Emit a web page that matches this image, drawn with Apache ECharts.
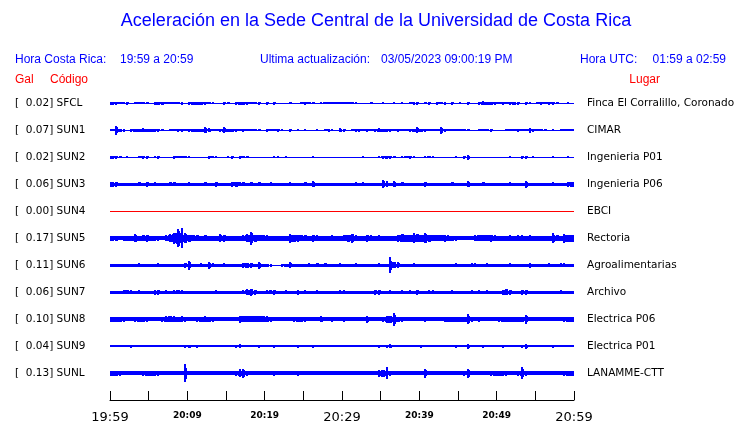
<!DOCTYPE html>
<html>
<head>
<meta charset="utf-8">
<script src="https://cdn.jsdelivr.net/npm/echarts@6/dist/echarts.min.js"></script>
<style>html,body{margin:0;padding:0;background:#fff;overflow:hidden}#c{width:740px;height:423px}</style>
</head>
<body>
<div id="c"></div>
<script>
// ---- data ----
const codes = ['SFCL','SUN1','SUN2','SUN3','SUN4','SUN5','SUN6','SUN7','SUN8','SUN9','SUNL'];
const galValues = ['0.02','0.07','0.02','0.06','0.00','0.17','0.11','0.06','0.10','0.04','0.13'];
const places = ['Finca El Corralillo, Coronado','CIMAR','Ingenieria P01','Ingenieria P06','EBCI','Rectoria','Agroalimentarias','Archivo','Electrica P06','Electrica P01','LANAMME-CTT'];
const timeTicks = [0,5,10,15,20,25,30,35,40,45,50,55,60];           // minutes after 19:59
const timeLabels = {0:'19:59',10:'20:09',20:'20:19',30:'20:29',40:'20:39',50:'20:49',60:'20:59'};
const bigLabels = ['19:59','20:29','20:59'];

// half-amplitude envelopes (one value per 30 s)
const SFCL = [1.3,1.3,1.0,0.8,1.3,0.5,1.0,1.0,1.0,1.0, 0.5,1.3,1.3,1.3,1.2,0.8,0.8,1.0,1.3,0.7,
 1.3,1.3,1.3,1.3,1.3,1.0,1.0,0.5,0.5,1.3, 1.0,0.5,1.3,1.3,1.3,1.3,1.0,0.8,1.3,0.6,
 1.3,0.6,1.3,0.5,0.5,0.5,1.0,0.5,0.5,1.0, 1.3,0.8,1.0,0.5,0.8,0.8,0.8,0.8,1.0,1.0,
 1.0,1.0,0.8,0.8,0.5,0.5,0.5,1.0,0.5,0.5, 0.8,0.5,0.5,0.8,0.5,0.8,0.5,1.0,1.3,1.3,
 0.5,1.0,1.3,0.7,1.3,0.8,1.3,0.5,1.3,0.5, 0.8,0.5,1.3,0.5,0.5,1.5,2.0,1.3,1.3,1.3,
 1.0,1.3,0.8,1.3,1.3,1.3,0.5,1.3,0.8,0.5, 1.0,1.3,0.8,1.3,1.3,1.0,0.5,0.5,0.8,0.5];
const SUN1 = [1.2,4.5,1.5,1.3,0.6,1.3,1.3,1.5,1.8,1.3, 1.3,1.3,1.3,1.0,0.6,1.0,1.0,1.3,1.3,1.0,
 1.3,1.3,1.3,1.5,3.0,2.0,1.0,1.0,1.3,3.0, 1.3,1.3,1.3,0.8,1.5,0.8,1.0,0.8,1.0,0.6,
 1.3,0.8,1.0,1.3,0.8,0.6,1.3,0.6,0.8,0.6, 0.8,0.6,0.6,0.8,0.6,1.0,1.3,0.8,0.6,2.0,
 1.3,0.6,1.0,1.3,1.3,1.0,1.3,1.0,1.3,2.0, 1.5,1.3,1.3,0.8,1.3,1.0,1.0,1.3,1.3,3.0,
 1.5,1.3,0.8,0.8,1.0,3.5,1.3,0.8,1.0,1.0, 1.0,1.0,1.0,0.6,0.6,1.0,1.0,1.0,1.3,0.6,
 0.6,0.6,1.0,1.0,1.0,1.3,1.0,1.0,2.5,1.3, 1.0,1.0,1.0,0.6,0.8,0.6,1.0,0.8,1.0,1.0];
const SUN2 = [1.3,1.3,1.0,0.5,0.8,0.5,0.5,1.0,1.3,1.3, 0.5,1.0,1.3,0.5,0.5,0.5,1.3,0.8,0.8,0.8,
 0.8,0.5,0.5,0.5,0.5,1.3,1.0,0.8,0.5,0.5, 0.8,1.3,0.5,1.3,0.8,1.0,0.5,0.5,0.5,0.5,
 0.5,0.5,0.8,0.8,0.5,0.8,0.5,0.5,0.5,0.5, 0.5,0.5,0.8,0.5,0.5,0.5,0.5,0.5,0.5,0.5,
 0.5,0.5,0.5,0.5,0.5,0.8,0.5,0.5,0.5,0.8, 1.3,1.3,1.3,1.0,0.5,0.8,0.8,1.3,0.8,0.5,
 0.5,0.8,0.8,0.8,0.5,0.5,0.5,0.5,0.5,0.8, 0.5,1.3,2.5,0.5,0.5,0.5,0.5,0.5,0.5,0.5,
 0.5,0.5,0.5,0.8,0.5,0.5,1.3,1.3,0.5,0.8, 0.5,0.5,0.5,0.5,0.8,0.5,0.5,0.5,0.8,0.5];
const SUN3 = [2.3,2.3,1.6,1.6,1.6,1.6,1.6,2.0,1.6,2.5, 1.6,2.0,1.6,1.6,1.6,2.0,2.0,1.6,1.6,1.6,
 1.8,1.6,1.6,1.6,2.0,1.6,1.6,2.3,1.6,1.6, 1.6,2.5,2.5,2.0,2.0,1.6,2.0,1.6,2.0,1.6,
 1.6,1.8,1.6,1.6,1.6,1.6,1.8,1.6,1.6,1.6, 2.0,1.6,3.0,1.6,1.6,1.6,1.6,1.6,1.6,1.6,
 1.6,1.6,1.6,2.0,1.6,1.8,1.6,1.6,1.6,1.6, 4.0,3.0,1.6,3.0,1.6,2.0,1.6,1.6,1.6,1.6,
 1.6,2.5,1.6,1.6,1.6,1.6,1.6,1.6,2.0,1.6, 1.6,1.6,3.0,1.6,1.6,1.6,2.0,1.6,1.6,1.6,
 1.6,1.6,1.6,1.8,1.6,1.6,1.6,3.5,1.6,1.6, 1.6,1.6,1.6,1.6,1.8,1.6,1.6,1.6,2.3,2.3];
const SUN4 = [0,0,0,0,0,0,0,0,0,0,0,0];
const SUN5 = [2.3,2.5,2.0,2.3,2.5,2.5,4.0,2.5,3.0,3.3, 2.5,2.5,2.3,2.0,3.0,4.0,5.5,9.0,10.0,5.0,
 3.5,3.0,3.0,2.5,3.0,2.5,2.3,2.3,4.0,3.5, 2.5,2.5,2.5,2.3,2.8,4.0,6.5,3.5,3.0,3.0,
 2.8,2.5,2.5,2.3,2.3,2.5,4.5,3.5,3.3,3.0, 3.0,2.5,3.5,2.8,2.5,2.5,2.5,2.8,2.5,2.5,
 3.0,3.5,4.5,3.0,2.5,2.5,3.5,3.0,2.3,3.0, 2.5,2.3,2.3,2.5,3.5,4.0,3.5,3.5,5.0,4.0,
 3.5,5.0,3.5,3.0,2.8,3.0,3.5,2.8,2.5,2.3, 2.0,2.0,2.0,2.0,3.0,2.8,2.8,3.0,3.5,2.8,
 2.5,2.5,2.5,2.8,2.5,2.8,2.8,2.5,3.0,2.5, 2.5,2.5,2.3,2.3,5.0,3.0,2.5,4.5,3.5,3.5];
const SUN6 = [1.3,1.3,1.3,1.3,1.3,1.3,1.3,1.8,1.3,1.3, 1.3,1.3,1.8,1.5,1.3,1.3,1.3,1.3,1.3,2.5,
 4.5,1.3,1.3,2.0,1.3,3.5,2.0,1.3,1.3,2.0, 1.3,1.3,1.3,1.3,2.3,2.3,2.3,1.3,3.5,1.3,
 1.3,1.3,0.5,0.5,1.3,1.3,3.0,1.3,1.3,1.3, 1.3,1.8,1.3,2.2,1.3,2.2,1.3,1.3,1.3,2.0,
 1.3,1.3,1.3,2.0,1.3,1.3,1.3,1.3,1.3,1.8, 1.3,1.3,8.0,3.0,3.0,1.3,1.3,1.3,2.0,1.3,
 1.3,1.3,1.3,1.3,1.3,1.3,1.3,1.3,1.3,1.8, 1.3,1.3,1.3,1.8,1.8,1.3,1.3,2.0,1.3,1.3,
 1.3,1.3,1.3,2.0,1.3,1.3,1.3,1.3,2.3,1.3, 1.3,1.3,1.3,2.0,1.3,1.3,2.0,2.0,1.3,1.3];
const SUN7 = [1.3,1.3,1.3,2.0,2.0,2.0,1.3,2.0,1.3,1.3, 1.3,2.3,2.3,1.3,1.8,1.3,2.0,2.0,2.0,1.3,
 1.3,1.3,1.3,1.3,1.3,1.3,1.3,2.0,1.3,1.3, 1.3,1.3,1.3,1.3,2.0,3.0,3.5,2.5,1.3,1.3,
 2.0,2.0,2.5,1.3,1.3,2.0,1.3,1.3,2.3,1.3, 2.0,1.3,1.3,1.8,1.3,1.3,1.3,1.3,1.3,2.0,
 2.0,1.3,1.3,1.3,1.3,1.3,1.3,1.3,2.3,2.3, 1.3,1.3,2.0,1.3,1.3,1.8,1.3,2.0,1.3,2.3,
 1.3,1.3,2.0,2.0,1.3,1.3,1.3,1.3,1.8,1.3, 1.3,1.3,1.3,2.0,1.3,2.0,1.3,2.0,1.3,1.3,
 1.3,2.5,3.0,2.5,1.3,1.3,2.3,2.3,1.3,1.3, 1.3,1.3,1.3,1.3,1.3,1.3,1.8,1.3,1.3,1.3];
const SUN8 = [2.5,2.5,2.5,2.3,1.8,1.8,2.3,2.3,2.5,2.3, 1.8,1.8,1.8,2.5,2.8,3.0,2.8,2.5,2.8,2.5,
 1.8,1.8,2.5,2.5,2.8,2.5,2.5,1.8,1.8,1.8, 1.8,1.8,1.8,3.5,2.8,2.8,3.0,2.8,2.8,2.8,
 2.8,2.5,1.8,1.8,1.8,1.8,1.8,2.3,2.3,2.3, 2.3,1.8,1.8,1.8,3.0,1.8,1.8,2.3,1.8,1.8,
 2.3,1.8,1.8,1.8,1.8,1.8,3.5,1.8,1.8,1.8, 2.3,3.5,3.5,6.5,2.5,2.3,1.8,1.8,1.8,1.8,
 1.8,2.3,1.8,1.8,1.8,1.8,2.5,2.5,2.5,2.5, 2.5,2.5,5.0,2.3,1.8,2.5,1.8,1.8,1.8,1.8,
 2.3,2.3,2.3,2.3,2.3,2.5,2.3,4.5,1.8,1.8, 1.8,1.8,1.8,1.8,1.8,1.8,1.8,2.5,2.5,2.5];
const SUN9 = [1.1,1.1,1.1,1.1,1.1,1.3,1.1,1.1,1.1,1.1, 1.1,1.1,1.1,1.1,1.1,1.1,1.1,1.1,1.1,1.3,
 1.5,1.1,1.3,1.1,1.1,1.1,1.1,1.1,1.1,1.1, 1.1,1.1,1.3,1.8,1.1,1.1,1.1,1.1,1.3,1.1,
 1.1,1.1,1.3,1.1,1.1,0.8,1.1,1.1,1.3,1.1, 1.1,1.1,1.3,1.1,1.1,1.1,1.1,1.1,1.1,1.1,
 1.1,1.1,1.1,1.1,1.1,1.1,1.1,1.1,1.1,1.3, 1.1,1.3,1.8,1.1,1.1,1.1,1.1,1.1,1.1,1.1,
 1.3,1.1,1.1,1.1,1.1,1.1,1.1,1.1,1.1,1.3, 1.1,1.1,2.3,1.1,1.1,1.1,1.3,1.1,1.1,1.1,
 1.1,1.3,1.1,1.1,1.1,1.1,1.3,2.3,1.1,1.1, 1.1,1.1,1.1,1.1,1.3,1.1,1.1,1.1,1.1,1.1];
const SUNL = [2.5,2.5,2.5,1.8,1.8,1.8,1.8,2.0,2.3,2.3, 2.3,2.3,2.3,1.8,1.8,1.8,1.8,1.8,1.8,9.0,
 2.0,1.8,1.8,2.0,1.8,2.0,1.8,1.8,1.8,1.8, 1.8,1.8,2.3,4.0,4.5,2.3,1.8,1.8,1.8,1.8,
 1.8,1.8,2.5,1.8,1.8,1.8,1.8,1.8,2.5,1.8, 1.8,1.8,1.8,2.0,1.8,1.8,1.8,1.8,1.8,1.8,
 1.8,1.8,1.8,1.8,1.8,1.8,1.8,1.8,1.8,3.5, 3.5,6.0,2.3,1.8,1.8,1.8,1.8,1.8,1.8,1.8,
 1.8,4.5,2.0,1.8,1.8,1.8,1.8,1.8,1.8,1.8, 1.8,2.3,4.5,2.0,1.8,1.8,1.8,1.8,2.3,2.3,
 2.3,2.3,2.3,1.8,1.8,2.3,6.0,2.3,1.8,1.8, 1.8,1.8,1.8,1.8,1.8,1.8,1.8,2.3,2.3,2.3];

const traces = [SFCL,SUN1,SUN2,SUN3,SUN4,SUN5,SUN6,SUN7,SUN8,SUN9,SUNL];
const traceColors = ['#0000ff','#0000ff','#0000ff','#0000ff','#ff0000','#0000ff','#0000ff','#0000ff','#0000ff','#0000ff','#0000ff'];

// ---- chart ----
const SPAN = 60;            // minutes shown
const ROWS = 12;
const PX_PER_AMP = 1/27;    // amplitude unit -> row units
const chart = echarts.init(document.getElementById('c'), null, {renderer:'canvas'});

function rowOf(i){ return ROWS - 1 - i; }

const series = traces.map((arr, i) => {
  const dt = SPAN / arr.length;
  const data = arr.map((a, k) => {
    const core = Math.min(a, k > 0 ? arr[k-1] : a, k < arr.length-1 ? arr[k+1] : a);
    return [k*dt, rowOf(i), a, dt, core];
  });
  return {
    type: 'custom',
    coordinateSystem: 'cartesian2d',
    silent: true,
    animation: false,
    data: data,
    encode: {x: 0, y: 1},
    renderItem: function(params, api){
      const t = api.value(0), row = api.value(1), a = api.value(2), dt = api.value(3), core = api.value(4);
      const p0 = api.coord([t, row]);
      const p1 = api.coord([t + dt, row]);
      const s = api.size([0, PX_PER_AMP])[1];
      const cy = p0[1];
      const x0 = Math.round(p0[0]), x1 = Math.round(p1[0]);
      const hc = Math.max(1, Math.round(2*core*s));
      const style = {fill: traceColors[i]};
      const children = [{type:'rect', shape:{x:x0, y:Math.round(cy - hc/2), width:x1-x0, height:hc}, style:style}];
      if (a > core) {
        const h = Math.max(1, Math.round(2*a*s));
        const xm = Math.round((x0+x1)/2) - 1;
        children.push({type:'rect', shape:{x:xm, y:Math.round(cy - h/2), width:2, height:h}, style:style});
        const hm = Math.max(1, Math.round((a+core)*s));
        children.push({type:'rect', shape:{x:x0+1, y:Math.round(cy - hm/2), width:Math.max(1,x1-x0-1), height:hm}, style:style});
      }
      return {type:'group', children: children};
    }
  };
});

const labelFont = 'DejaVu Sans';

const option = {
  backgroundColor: '#ffffff',
  animation: false,
  grid: {left:110, right:166, top:76, height:324, containLabel:false, outerBoundsMode:'none'},
  xAxis: {
    type:'value', min:0, max:SPAN, interval:5, offset:9,
    axisLine:{show:true, lineStyle:{color:'#000', width:1}},
    axisTick:{show:true, inside:true, length:9, lineStyle:{color:'#000'}},
    splitLine:{show:false},
    axisLabel:{
      margin:2, showMinLabel:true, showMaxLabel:true,
      formatter: function(v){
        const l = timeLabels[v];
        if (!l) return '';
        return bigLabels.indexOf(l) >= 0 ? '{b|' + l + '}' : '{s|' + l + '}';
      },
      rich:{
        b:{fontFamily:labelFont, fontSize:13, color:'#000', lineHeight:14},
        s:{fontFamily:labelFont, fontSize:9, fontWeight:'bold', color:'#000', lineHeight:9}
      }
    }
  },
  yAxis: [
    {
      type:'value', min:0, max:ROWS, interval:1, position:'left',
      axisLine:{show:false}, axisTick:{show:false}, splitLine:{show:false},
      axisLabel:{
        margin:95, align:'left', verticalAlign:'middle', fontFamily:labelFont, fontSize:10.5, color:'#000', padding:[2,0,0,0],
        formatter: function(v){
          const i = ROWS - 1 - v;
          if (i < 0 || i >= codes.length) return '';
          return '[  ' + galValues[i] + '] ' + codes[i];
        }
      }
    },
    {
      type:'value', min:0, max:ROWS, interval:1, position:'right',
      axisLine:{show:false}, axisTick:{show:false}, splitLine:{show:false},
      axisLabel:{
        margin:13, align:'left', verticalAlign:'middle', fontFamily:labelFont, fontSize:10.5, color:'#000', padding:[2,0,0,0],
        formatter: function(v){
          const i = ROWS - 1 - v;
          if (i < 0 || i >= places.length) return '';
          return places[i];
        }
      }
    }
  ],
  graphic: [
    {type:'text', x:376, y:12, style:{text:'Aceleración en la Sede Central de la Universidad de Costa Rica', font:'18px "Liberation Sans"', fill:'#0000ff', textAlign:'center'}},
    {type:'text', x:15, y:54, style:{text:'Hora Costa Rica:', font:'12px "Liberation Sans"', fill:'#0000ff'}},
    {type:'text', x:120, y:54, style:{text:'19:59 a 20:59', font:'12px "Liberation Sans"', fill:'#0000ff'}},
    {type:'text', x:260, y:54, style:{text:'Ultima actualización:', font:'12px "Liberation Sans"', fill:'#0000ff'}},
    {type:'text', x:381, y:54, style:{text:'03/05/2023 09:00:19 PM', font:'12px "Liberation Sans"', fill:'#0000ff'}},
    {type:'text', x:580, y:54, style:{text:'Hora UTC:', font:'12px "Liberation Sans"', fill:'#0000ff'}},
    {type:'text', x:726, y:54, style:{text:'01:59 a 02:59', font:'12px "Liberation Sans"', fill:'#0000ff', textAlign:'right'}},
    {type:'text', x:15, y:74, style:{text:'Gal', font:'12px "Liberation Sans"', fill:'#ff0000'}},
    {type:'text', x:50, y:74, style:{text:'Código', font:'12px "Liberation Sans"', fill:'#ff0000'}},
    {type:'text', x:660, y:74, style:{text:'Lugar', font:'12px "Liberation Sans"', fill:'#ff0000', textAlign:'right'}}
  ],
  series: series
};
chart.setOption(option);
</script>
</body>
</html>
